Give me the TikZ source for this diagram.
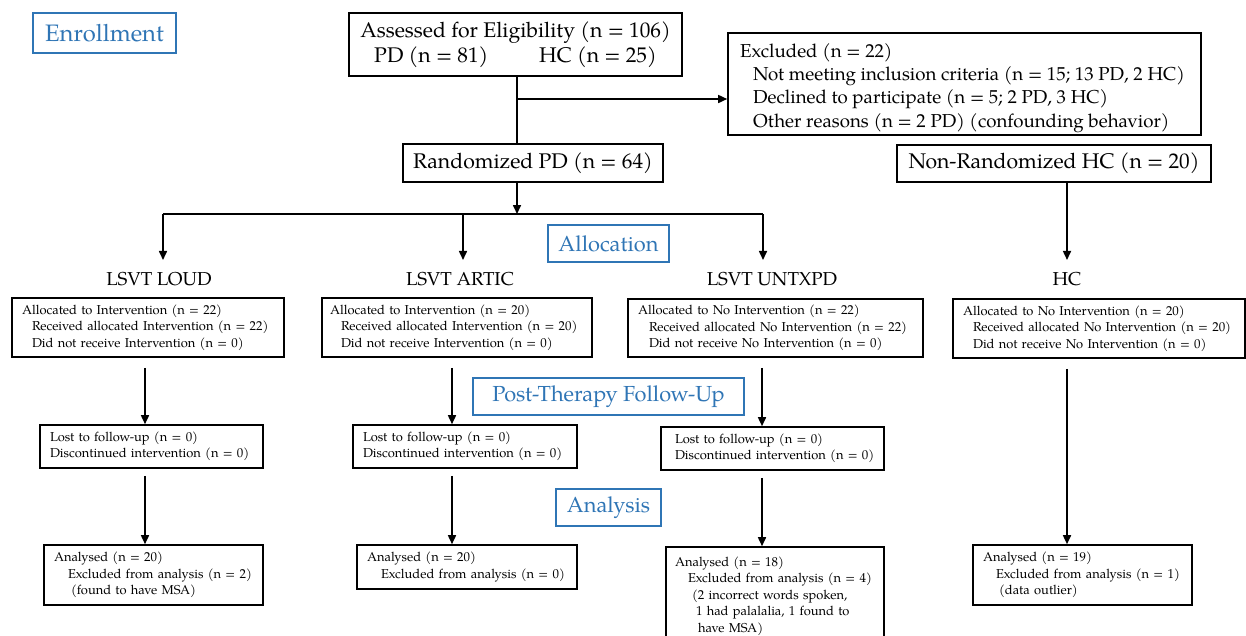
\documentclass[tikz,border=0pt]{standalone}
\usepackage{fontspec}
\setmainfont{texgyrepagella}[Extension=.otf,UprightFont=*-regular,BoldFont=*-bold]
\usetikzlibrary{arrows.meta}
\definecolor{secblue}{RGB}{47,117,181}
\newcommand{\bxline}[2][0]{\mbox{\hspace*{#1pt}#2}}
\begin{document}
\begin{tikzpicture}[x=1pt,y=-1pt,
  ln/.style={line width=1.6pt},
  arr/.style={line width=1.6pt,-{Triangle[length=9pt,width=8pt]}},
  bigbox/.style={draw,line width=1.6pt,inner sep=0pt,align=center,font=\fontsize{21.2}{25}\selectfont},
  secbox/.style={draw=secblue,text=secblue,line width=1.5pt,inner sep=0pt,font=\fontsize{21.8}{26}\selectfont},
  smallbox/.style={draw,line width=1.6pt,inner xsep=10pt,inner ysep=0pt,align=left,font=\fontsize{12.9}{16.5}\selectfont},
  grp/.style={inner xsep=2pt,inner ysep=12pt,font=\fontsize{18.7}{22}\selectfont}
]
\useasboundingbox (0,0) rectangle (1246,635);
\clip (0,0) rectangle (1246,635);

% section labels
\node[secbox,minimum width=143pt,minimum height=40pt,font=\fontsize{23.8}{26}\selectfont] (enroll) at (104.5,33) {Enrollment};
\node[secbox,minimum width=121pt,minimum height=37pt] (alloc) at (608.5,243.5) {Allocation};
\node[secbox,minimum width=271pt,minimum height=37pt] (post) at (608.5,396.5) {Post-Therapy Follow-Up};
\node[secbox,minimum width=105pt,minimum height=37pt] (anal) at (608.5,507.5) {Analysis};

% top
\node[bigbox,minimum width=333pt,minimum height=63pt] (assess) at (515.5,44.5)
  {Assessed for Eligibility (n = 106)\\PD (n = 81)\hspace{2.4em}HC (n = 25)};
\node[draw,line width=1.6pt,inner sep=0pt,minimum width=473pt,minimum height=102pt] (excl) at (964.5,84) {};
\node[anchor=north west,inner sep=0pt,align=left,font=\fontsize{18.7}{23.3}\selectfont] (excltxt) at (740,43)
  {Excluded (n = 22)\\
   \hspace*{13pt}Not meeting inclusion criteria (n = 15; 13 PD, 2 HC)\\
   \hspace*{13pt}Declined to participate (n = 5; 2 PD, 3 HC)\\
   \hspace*{13pt}Other reasons (n = 2 PD) (confounding behavior)};
\node[bigbox,minimum width=260pt,minimum height=38pt] (rand) at (533,163) {Randomized PD (n = 64)};
\node[bigbox,minimum width=314pt,minimum height=37pt] (nonrand) at (1054,163.5) {Non-Randomized HC (n = 20)};

% group labels
\node[grp] (loud) at (159,279) {LSVT LOUD};
\node[grp] (artic) at (460,279) {LSVT ARTIC};
\node[grp] (untx) at (772,279) {LSVT UNTXPD};
\node[grp] (hc) at (1067,279) {HC};

% allocation boxes
\node[smallbox,text width=252pt,minimum height=59pt] (allocL) at (148,327.5)
  {\bxline{Allocated to Intervention (n = 22)}\\
   \bxline[10]{Received allocated Intervention (n = 22)}\\
   \bxline[10]{Did not receive Intervention (n = 0)}};
\node[smallbox,inner xsep=8pt,text width=254pt,minimum height=59pt] (allocA) at (457,327.5)
  {\bxline{Allocated to Intervention (n = 20)}\\
   \bxline[11]{Received allocated Intervention (n = 20)}\\
   \bxline[11]{Did not receive Intervention (n = 0)}};
\node[smallbox,text width=275pt,minimum height=58pt] (allocU) at (775.5,328)
  {\bxline{Allocated to No Intervention (n = 22)}\\
   \bxline[11]{Received allocated No Intervention (n = 22)}\\
   \bxline[11]{Did not receive No Intervention (n = 0)}};
\node[smallbox,text width=272pt,minimum height=59pt] (allocH) at (1099,328.5)
  {\bxline{Allocated to No Intervention (n = 20)}\\
   \bxline[10]{Received allocated No Intervention (n = 20)}\\
   \bxline[10]{Did not receive No Intervention (n = 0)}};

% follow-up boxes
\node[smallbox,text width=203pt,minimum height=43pt] (lostL) at (151.5,446.5)
  {\bxline{Lost to follow-up (n = 0)}\\\bxline{Discontinued intervention (n = 0)}};
\node[smallbox,text width=204pt,minimum height=43pt] (lostA) at (465,446.5)
  {\bxline{Lost to follow-up (n = 0)}\\\bxline{Discontinued intervention (n = 0)}};
\node[smallbox,inner xsep=14pt,text width=195pt,minimum height=43pt] (lostU) at (772.5,448.5)
  {\bxline{Lost to follow-up (n = 0)}\\\bxline{Discontinued intervention (n = 0)}};

% analysis boxes
\node[smallbox,text width=199pt,minimum height=60pt] (anaL) at (153.5,575)
  {\bxline{Analysed (n = 20)}\\
   \bxline[14]{Excluded from analysis (n = 2)}\\
   \bxline[17]{(found to have MSA)}};
\node[smallbox,text width=200pt,minimum height=44pt] (anaA) at (467,567)
  {\bxline{Analysed (n = 20)}\\
   \bxline[14]{Excluded from analysis (n = 0)}};
\node[smallbox,inner xsep=9pt,text width=200pt,minimum height=98pt] (anaU) at (775,596)
  {\bxline{Analysed (n = 18)}\\
   \bxline[13]{Excluded from analysis (n = 4)}\\
   \bxline[17]{(2 incorrect words spoken,}\\
   \bxline[21]{1 had palalalia, 1 found to}\\
   \bxline[23]{have MSA)}};
\node[smallbox,text width=199pt,minimum height=60pt] (anaH) at (1082.5,575)
  {\bxline{Analysed (n = 19)}\\
   \bxline[13]{Excluded from analysis (n = 1)}\\
   \bxline[16]{(data outlier)}};

% connector coordinates
\coordinate (br) at (517,99);
\coordinate (sp) at (517,214);
\coordinate (sL) at (163,214);
\coordinate (sA) at (463,214);
\coordinate (sR) at (763,214);
\coordinate (xL) at (145,0);
\coordinate (xA) at (452,0);
\coordinate (xU) at (762,0);
\coordinate (xH) at (1067,0);

% top connectors
\draw[ln] (assess.south -| br) -- (rand.north -| br);
\draw[arr] (br) -- (br -| excl.west);
\draw[arr] (rand.south -| sp) -- (sp);
\draw[ln] (sL) -- (sR);
\draw[arr] (sL) -- (sL |- loud.north);
\draw[arr] (sA) -- (sA |- artic.north);
\draw[arr] (sR) -- (sR |- untx.north);
\draw[arr] (nonrand.south -| xH) -- (hc.north -| xH);

% column connectors
\draw[arr,shorten <=10pt] (allocL.south -| xL) -- (lostL.north -| xL);
\draw[arr,shorten <=7pt] (lostL.south -| xL) -- (anaL.north -| xL);
\draw[arr,shorten <=10pt] (allocA.south -| xA) -- (lostA.north -| xA);
\draw[arr,shorten <=7pt] (lostA.south -| xA) -- (anaA.north -| xA);
\draw[arr,shorten <=10pt] (allocU.south -| xU) -- (lostU.north -| xU);
\draw[arr,shorten <=7pt] (lostU.south -| xU) -- (anaU.north -| xU);
\draw[arr,shorten <=10pt] (allocH.south -| xH) -- (anaH.north -| xH);
\end{tikzpicture}
\end{document}
